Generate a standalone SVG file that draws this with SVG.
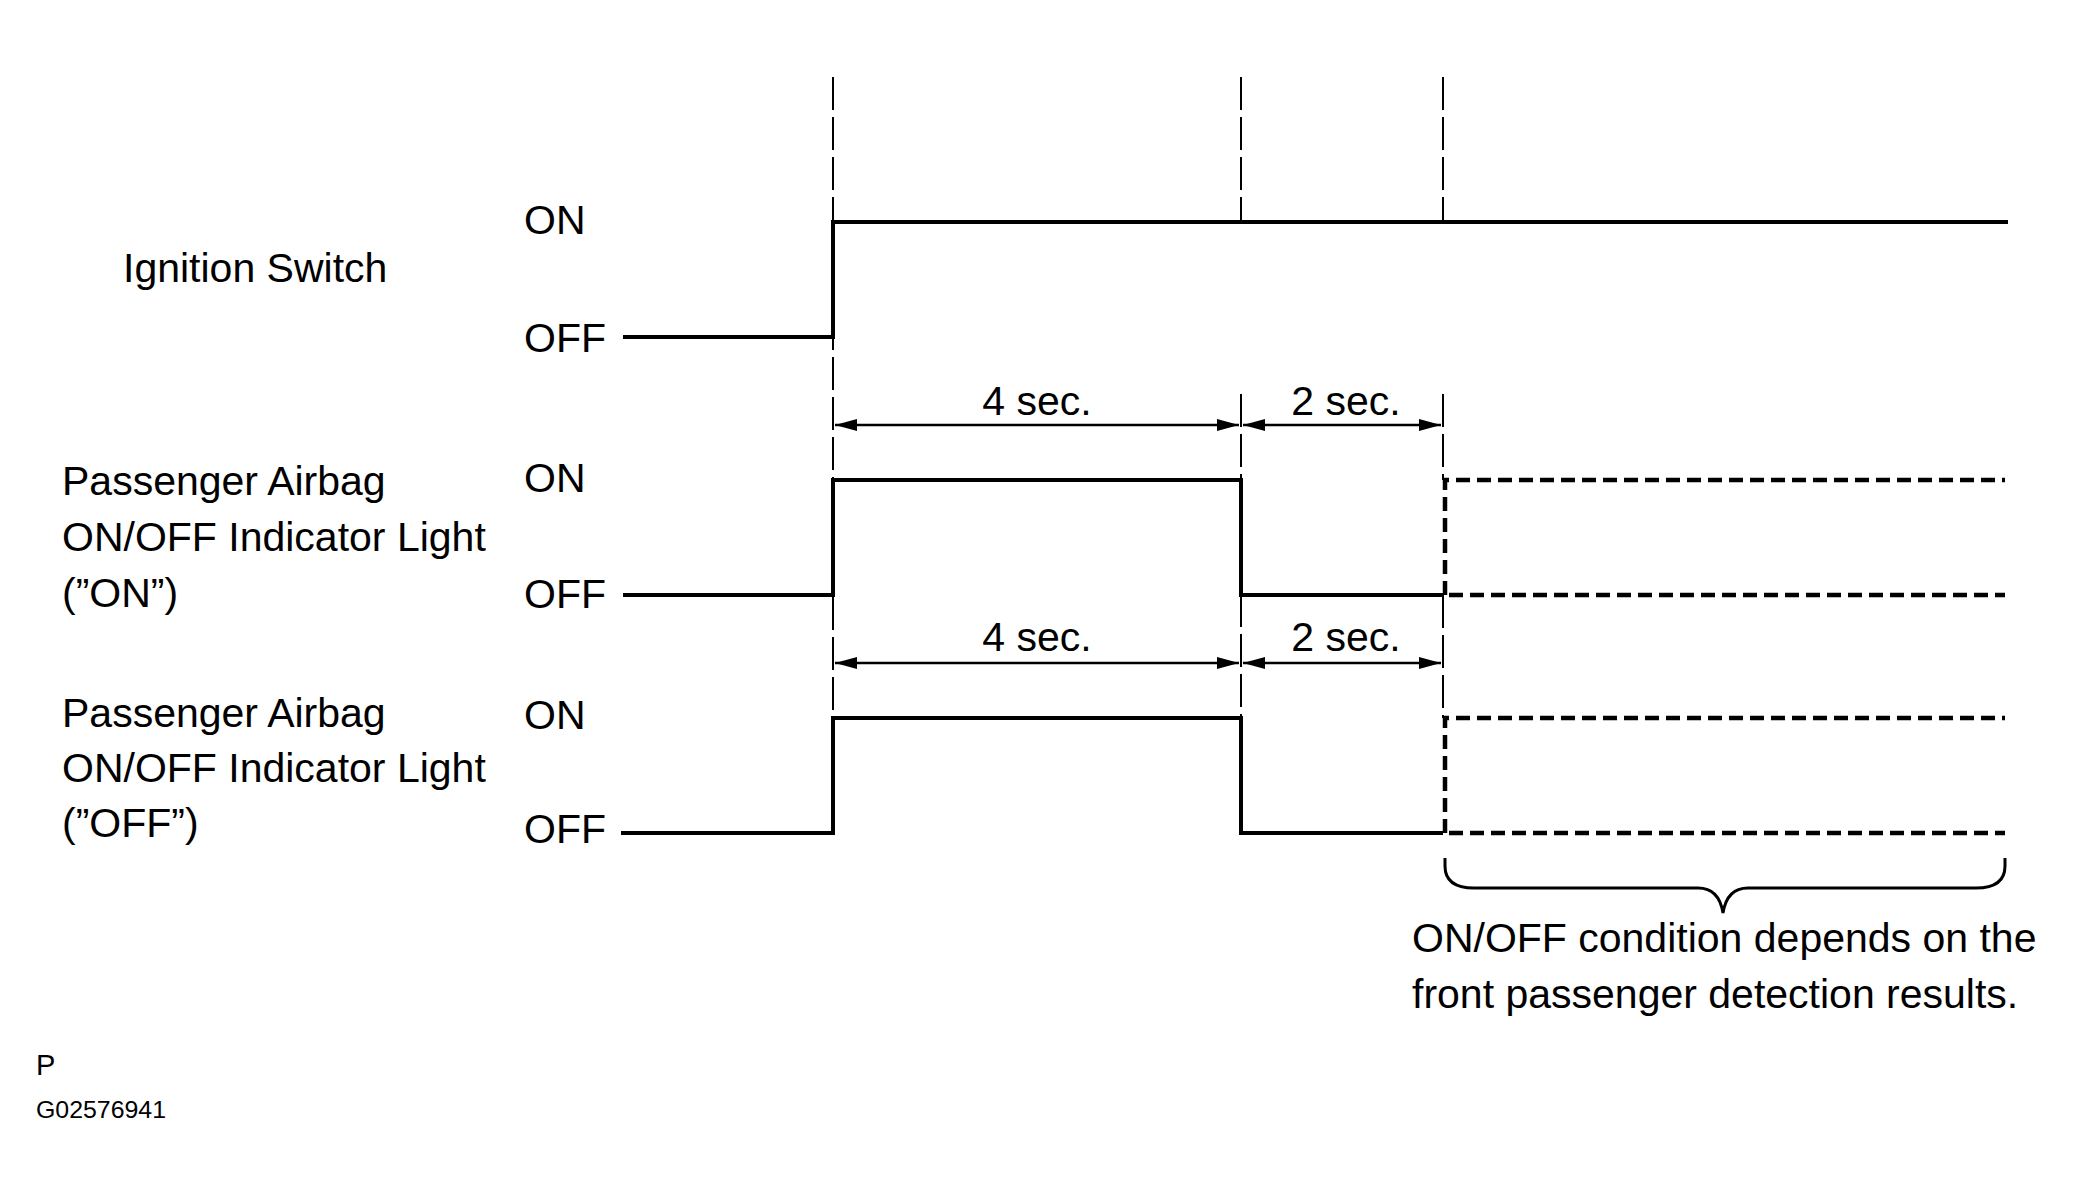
<svg xmlns="http://www.w3.org/2000/svg" width="2077" height="1194" viewBox="0 0 2077 1194">
<style>
text{font-family:"Liberation Sans",Arial,sans-serif;fill:#000}
.lbl{font-size:41px}
.small{font-size:24px}
.ref{stroke:#000;stroke-width:2;fill:none;stroke-dasharray:33 7}
.sig{stroke:#000;stroke-width:4;fill:none;stroke-linejoin:miter}
.opt{stroke:#000;stroke-width:4.5;fill:none;stroke-dasharray:14 7}
.dim{stroke:#000;stroke-width:2.5;fill:none;marker-start:url(#ah);marker-end:url(#ah)}
.brace{stroke:#000;stroke-width:3;fill:none}
</style>
<defs>
<marker id="ah" viewBox="0 0 22 12" refX="22" refY="6" markerWidth="22" markerHeight="12" markerUnits="userSpaceOnUse" orient="auto-start-reverse">
<path d="M0,0 L22,6 L0,12 Z" fill="#000"/>
</marker>
</defs>
<rect width="2077" height="1194" fill="#fff"/>
<g id="reference-lines">
<path class="ref" d="M833,77 V718"/>
<path class="ref" d="M1241,77 V222 M1241,394 V718"/>
<path class="ref" d="M1443,77 V222 M1443,394 V480 M1443,595 V718"/>
</g>
<g id="ignition-switch">
<text class="lbl" x="123" y="282">Ignition Switch</text>
<text class="lbl" x="524" y="234">ON</text>
<text class="lbl" x="524" y="352">OFF</text>
<path class="sig" d="M623,337 H833 V222 H2008"/>
</g>
<g id="indicator-on">
<text class="lbl" x="62" y="495">Passenger Airbag</text>
<text class="lbl" x="62" y="551">ON/OFF Indicator Light</text>
<text class="lbl" x="62" y="607">(”ON”)</text>
<text class="lbl" x="524" y="492">ON</text>
<text class="lbl" x="524" y="608">OFF</text>
<path class="sig" d="M623,595 H833 V480 H1241 V595 H1443"/>
<path class="opt" d="M1445,595 V480 H2005 M1449,595 H2005"/>
</g>
<g id="indicator-off">
<text class="lbl" x="62" y="727">Passenger Airbag</text>
<text class="lbl" x="62" y="782">ON/OFF Indicator Light</text>
<text class="lbl" x="62" y="837">(”OFF”)</text>
<text class="lbl" x="524" y="729">ON</text>
<text class="lbl" x="524" y="843">OFF</text>
<path class="sig" d="M621,833 H833 V718 H1241 V833 H1443"/>
<path class="opt" d="M1445,833 V718 H2005 M1449,833 H2005"/>
</g>
<g id="connectors">
<path class="dim" d="M835,425 H1239"/>
<path class="dim" d="M1243,425 H1441"/>
<path class="dim" d="M835,663 H1239"/>
<path class="dim" d="M1243,663 H1441"/>
<path class="brace" d="M1445,858 V866 Q1445,888 1474,888 H1698 Q1719,888 1723,913 Q1727,888 1748,888 H1976 Q2005,888 2005,866 V858"/>
</g>
<g id="dim-labels">
<text class="lbl" x="1037" y="415" text-anchor="middle">4 sec.</text>
<text class="lbl" x="1346" y="415" text-anchor="middle">2 sec.</text>
<text class="lbl" x="1037" y="651" text-anchor="middle">4 sec.</text>
<text class="lbl" x="1346" y="651" text-anchor="middle">2 sec.</text>
</g>
<g id="note">
<text class="lbl" x="1412" y="952">ON/OFF condition depends on the</text>
<text class="lbl" x="1412" y="1008">front passenger detection results.</text>
</g>
<g id="footer">
<text x="36" y="1075" style="font-size:29px">P</text>
<text class="small" x="36" y="1118" textLength="130" lengthAdjust="spacingAndGlyphs">G02576941</text>
</g>
</svg>
